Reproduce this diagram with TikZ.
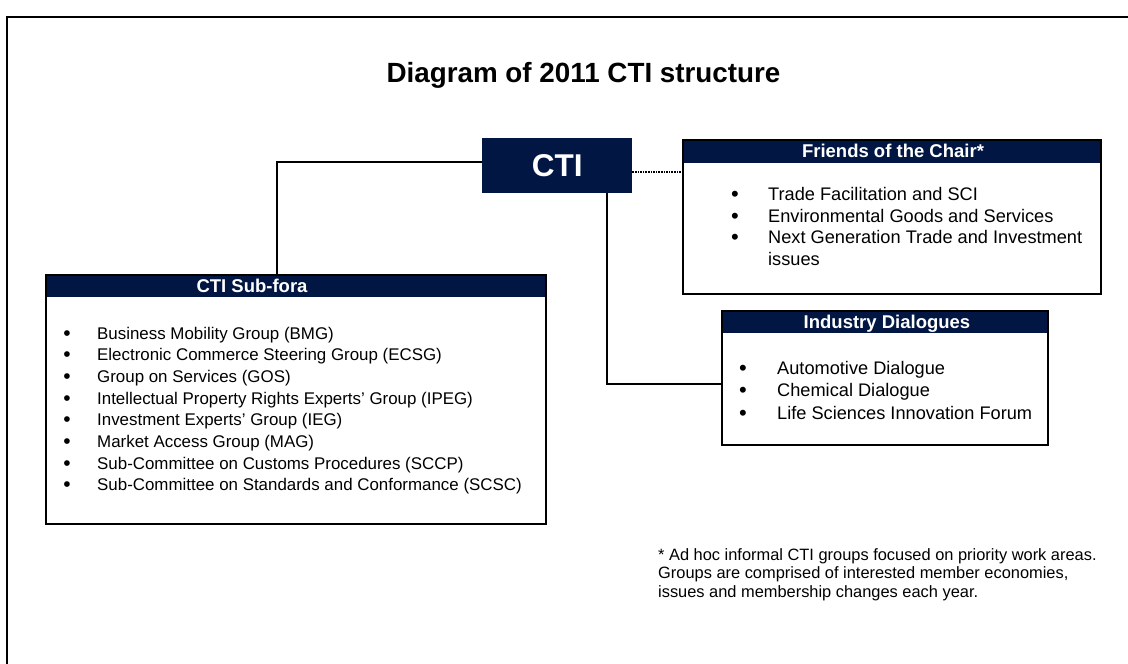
\documentclass[tikz,border=0pt]{standalone}
\usepackage{fontspec}
\setmainfont{Liberation Sans}
\definecolor{navy}{RGB}{1,22,66}
\begin{document}
\begin{tikzpicture}[x=1pt,y=-1pt,
  boxframe/.style={draw=black, line width=1.8pt, anchor=north west, inner sep=0pt},
  headband/.style={fill=navy, anchor=north west, inner sep=0pt},
  headtxt/.style={text=white, font=\fontsize{18.5}{20}\selectfont\bfseries, anchor=base, inner sep=0pt},
  subitem/.style={font=\fontsize{16.9}{20}\selectfont, anchor=base west, inner sep=0pt},
  rightitem/.style={font=\fontsize{18.2}{21}\selectfont, anchor=base west, inner sep=0pt},
  bulletsub/.style={font=\fontsize{21}{22}\selectfont, anchor=base, inner sep=0pt, yshift=-1pt},
  bulletright/.style={font=\fontsize{22}{23}\selectfont, anchor=base, inner sep=0pt, yshift=-1pt},
  conn/.style={line width=2.5pt},
  dotconn/.style={line width=2.2pt, dash pattern=on 1.6pt off 1pt}]
\useasboundingbox (0,0) rectangle (1128,664);
\fill[white] (0,0) rectangle (1128,664);
% outer frame
\draw[line width=2pt] (7,664) -- (7,17) -- (1128,17);

% title
\node[font=\fontsize{27.8}{30}\selectfont\bfseries, anchor=base, inner sep=0pt] (title) at (583.5,82) {Diagram of 2011 CTI structure};

% CTI box
\node[fill=navy, anchor=north west, minimum width=150pt, minimum height=55pt, inner sep=0pt] (cti) at (482,138) {};
\node[text=white, font=\fontsize{31.5}{33}\selectfont\bfseries, inner sep=0pt] (ctitxt) at (cti.center) {CTI};

% Friends of the Chair
\node[headband, minimum width=418pt, minimum height=24pt] (frihead) at (682,139) {};
\node[boxframe, minimum width=418pt, minimum height=154pt] (fri) at (682,139) {};
\node[headtxt] (frihtxt) at (893,157) {Friends of the Chair*};
\foreach \t [count=\i] in {Trade Facilitation and SCI, Environmental Goods and Services, Next Generation Trade and Investment}{
  \node[bulletright] (frib\i) at (735,{200.7+(\i-1)*21.4}) {•};
  \node[rightitem] (fri\i) at (768,{200.7+(\i-1)*21.4}) {\t};
}
\node[rightitem] (fri4) at (768,265) {issues};

% CTI Sub-fora
\node[headband, minimum width=500pt, minimum height=23pt] (subhead) at (45,274) {};
\node[boxframe, minimum width=500pt, minimum height=249pt] (sub) at (45,274) {};
\node[headtxt] (subhtxt) at (252,292) {CTI Sub-fora};
\foreach \t [count=\i] in {Business Mobility Group (BMG), Electronic Commerce Steering Group (ECSG), Group on Services (GOS), Intellectual Property Rights Experts’ Group (IPEG), Investment Experts’ Group (IEG), Market Access Group (MAG), Sub-Committee on Customs Procedures (SCCP), Sub-Committee on Standards and Conformance (SCSC)}{
  \node[bulletsub] (subb\i) at (67,{339+(\i-1)*21.7}) {•};
  \node[subitem] (sub\i) at (97,{339+(\i-1)*21.7}) {\t};
}

% Industry Dialogues
\node[headband, minimum width=326pt, minimum height=23pt] (indhead) at (721,310) {};
\node[boxframe, minimum width=326pt, minimum height=134pt] (ind) at (721,310) {};
\node[headtxt] (indhtxt) at (887,328) {Industry Dialogues};
\foreach \t [count=\i] in {Automotive Dialogue, Chemical Dialogue, Life Sciences Innovation Forum}{
  \node[bulletright] (indb\i) at (743,{374+(\i-1)*22.7}) {•};
  \node[rightitem] (ind\i) at (777,{374+(\i-1)*22.7}) {\t};
}

% connectors
\coordinate (subtap) at (277,274);
\draw[conn] ([yshift=3.5pt]cti.west) -| (subtap);
\draw[dotconn] ([yshift=-6.5pt]cti.east) -- ([yshift=-6.5pt]cti.east -| fri.west);
\draw[conn] ([xshift=50pt]cti.south) |- ([yshift=-6pt]ind.west);

% footnote
\node[font=\fontsize{16.4}{18.7}\selectfont, anchor=base west, inner sep=0pt] (fn1) at (658,560) {* Ad hoc informal CTI groups focused on priority work areas.};
\node[font=\fontsize{16.4}{18.7}\selectfont, anchor=base west, inner sep=0pt] (fn2) at (658,578.7) {Groups are comprised of interested member economies,};
\node[font=\fontsize{16.4}{18.7}\selectfont, anchor=base west, inner sep=0pt] (fn3) at (658,597.3) {issues and membership changes each year.};
\end{tikzpicture}
\end{document}
